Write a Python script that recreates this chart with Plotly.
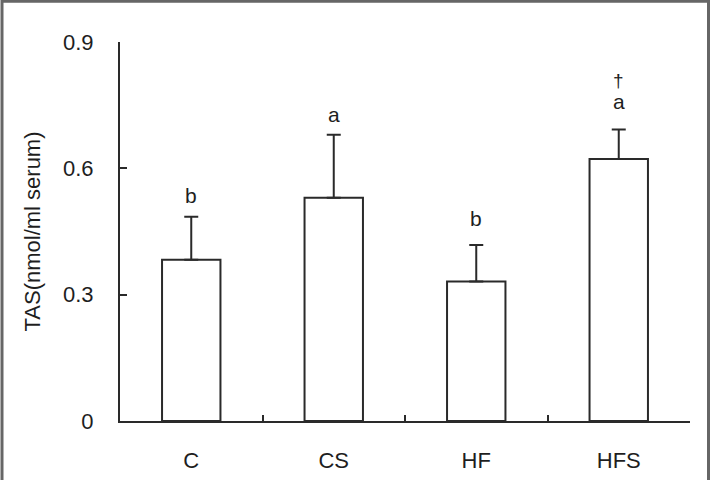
import plotly.graph_objects as go

categories = ["C", "CS", "HF", "HFS"]
means = [0.383, 0.530, 0.331, 0.622]
errors = [0.102, 0.150, 0.087, 0.070]
letters = ["b", "a", "b", "a"]
dagger = ["", "", "", "†"]
y_ticks = [0, 0.3, 0.6, 0.9]
y_ticklabels = ["0", "0.3", "0.6", "0.9"]

FONT = "Liberation Sans, Arial, sans-serif"
INK = "#1e1e1e"

fig = go.Figure()
fig.add_trace(go.Bar(
    x=categories, y=means, width=0.41,
    marker=dict(color="white", line=dict(color="#2a2a2a", width=2)),
    error_y=dict(type="data", array=errors, arrayminus=[0]*4, symmetric=False,
                 color="#2a2a2a", thickness=2, width=7),
    showlegend=False, hoverinfo="skip",
))

letter_shift = [21, 20, 26, 28]
for c, m, e, t, s in zip(categories, means, errors, letters, letter_shift):
    fig.add_annotation(x=c, y=m + e, text=t, showarrow=False, yanchor="middle",
                       yshift=s, font=dict(family=FONT, size=21, color=INK))
for c, m, e, t in zip(categories, means, errors, dagger):
    if t:
        fig.add_annotation(x=c, y=m + e, text=t, showarrow=False, yanchor="middle",
                           yshift=49, font=dict(family=FONT, size=19, color=INK))

# outer frame
fig.add_shape(type="rect", xref="paper", yref="paper",
              x0=(2 - 120) / 570, x1=(708.5 - 120) / 570,
              y0=(421 - 490) / 378.7, y1=(421 - 1.5) / 378.7,
              line=dict(color="#666666", width=3), layer="below")

fig.update_layout(
    width=713, height=480,
    margin=dict(l=120, r=23, t=42, b=59, autoexpand=False),
    paper_bgcolor="white", plot_bgcolor="white",
    font=dict(family=FONT, size=22, color=INK),
    xaxis=dict(
        type="category", range=[-0.5, 3.5],
        showline=True, linecolor="#2a2a2a", linewidth=2,
        ticks="inside", tickson="boundaries", ticklen=6, tickwidth=2, tickcolor="#2a2a2a",
        showgrid=False, zeroline=False, ticklabelstandoff=19,
        tickfont=dict(family=FONT, size=22, color=INK),
    ),
    yaxis=dict(
        range=[0, 0.9], tickvals=y_ticks, ticktext=y_ticklabels,
        showline=True, linecolor="#2a2a2a", linewidth=2,
        ticks="inside", ticklen=7, tickwidth=2, tickcolor="#2a2a2a",
        showgrid=False, zeroline=False, ticklabelstandoff=20,
        tickfont=dict(family=FONT, size=22, color=INK),
        title=dict(text="TAS(nmol/ml serum)", standoff=16,
                   font=dict(family=FONT, size=22, color=INK)),
    ),
)

fig.write_html("out.html")
